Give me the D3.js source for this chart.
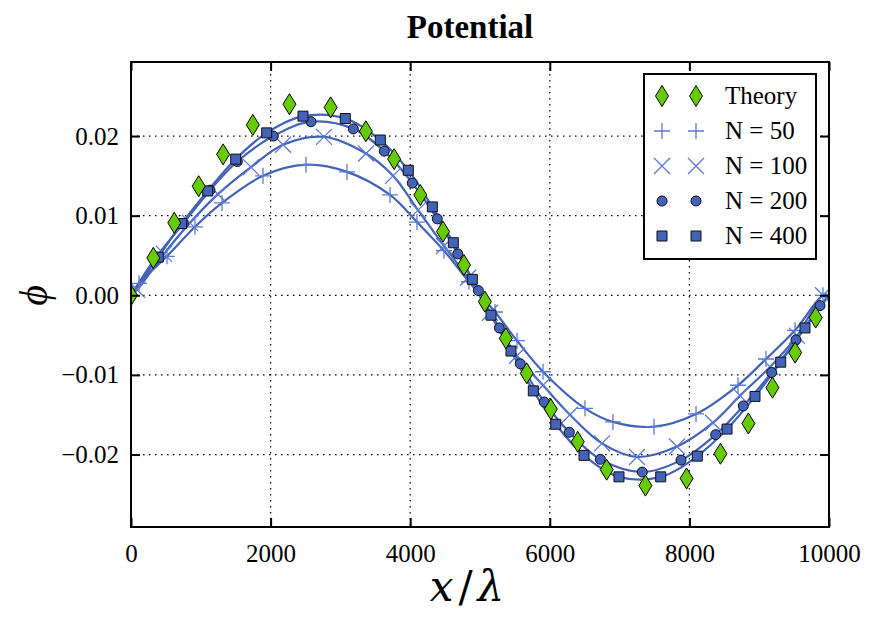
<!DOCTYPE html>
<html>
<head>
<meta charset="utf-8">
<script src="https://cdn.jsdelivr.net/npm/d3@7"></script>
<style>
    body { margin: 0; background: #fff; }
    text { font-family: "Liberation Serif", "Times New Roman", serif; }
</style>
</head>
<body>
<script>
// values
const theoryX = [0, 320, 620, 970, 1320, 1745, 2270, 2860, 3365, 3770, 4145, 4470, 4770, 5070, 5370, 5670, 6015, 6400, 6815, 7370, 7960, 8445, 8845, 9190, 9515, 9810];
const theoryY = [0, 0.0047, 0.0091, 0.0137, 0.0177, 0.0214, 0.0240, 0.0236, 0.0206, 0.0171, 0.0126, 0.0080, 0.0038, -0.0008, -0.0054, -0.0098, -0.0143, -0.0184, -0.0219, -0.0239, -0.0230, -0.0199, -0.0161, -0.0116, -0.0072, -0.0028];

const n50X = [115, 516, 917, 1304, 1891, 2507, 3095, 3711, 4097, 4484, 4842, 5215, 5530, 5903, 6504, 6905, 7493, 8095, 8696, 9097, 9513, 9914];
const n50Y = [0.0015, 0.0049, 0.0086, 0.0116, 0.0150, 0.0164, 0.0155, 0.0126, 0.0092, 0.0056, 0.0017, -0.0021, -0.0057, -0.0096, -0.0142, -0.0159, -0.0165, -0.0149, -0.0113, -0.0080, -0.0044, 0.0000];

const n100X = [86, 473, 845, 1246, 1719, 2178, 2765, 3367, 3754, 4112, 4484, 4828, 5143, 5530, 5903, 6289, 6748, 7249, 7822, 8338, 8725, 9155, 9542, 9914];
const n100Y = [0.0007, 0.0052, 0.0091, 0.0127, 0.0161, 0.0189, 0.0199, 0.0178, 0.0150, 0.0107, 0.0062, 0.0022, -0.0022, -0.0076, -0.0113, -0.0150, -0.0186, -0.0203, -0.0190, -0.0160, -0.0126, -0.0090, -0.0051, 0.0000];

const n200X = [344, 749, 1132, 1523, 2039, 2579, 3185, 3629, 4030, 4388, 4681, 4976, 5277, 5577, 5921, 6279, 6724, 7325, 7880, 8377, 8772, 9179, 9527, 9871];
const n200Y = [0.0046, 0.0090, 0.0132, 0.0168, 0.0200, 0.0218, 0.0209, 0.0181, 0.0141, 0.0096, 0.0052, 0.0006, -0.0041, -0.0086, -0.0134, -0.0172, -0.0206, -0.0222, -0.0207, -0.0175, -0.0139, -0.0097, -0.0056, -0.0013];

const n400X = [391, 726, 1099, 1500, 1944, 2464, 3070, 3572, 3973, 4317, 4618, 4890, 5158, 5444, 5764, 6085, 6490, 6991, 7589, 8113, 8539, 8940, 9308, 9656];
const n400Y = [0.0048, 0.0090, 0.0131, 0.0171, 0.0204, 0.0225, 0.0222, 0.0195, 0.0157, 0.0111, 0.0066, 0.0020, -0.0025, -0.0070, -0.0120, -0.0162, -0.0201, -0.0228, -0.0228, -0.0202, -0.0168, -0.0127, -0.0084, -0.0041];

const xTicks = [0, 2000, 4000, 6000, 8000, 10000];
const yTicks = [-0.02, -0.01, 0.00, 0.01, 0.02];

const blue = '#4363b9';
const lightBlue = '#5a7bd2';
const green = '#66cc00';

const width = 879, height = 626;
const margin = { 'top': 62, 'right': 50, 'bottom': 99, 'left': 131 };
const plotW = width - margin.left - margin.right;
const plotH = height - margin.top - margin.bottom;

const zip = (xs, ys) => xs.map((x, i) => ({ 'x': x, 'y': ys[i] }));

// marker shapes as path strings centred at 0,0
const shapes = {
    'diamond': 'M0,-10.5L6.5,0L0,10.5L-6.5,0Z',
    'plus': 'M-8,0H8M0,-8V8',
    'cross': 'M-8,-8L8,8M-8,8L8,-8',
    'circle': d3.symbol(d3.symbolCircle, Math.PI * 25)(),
    'square': 'M-5,-5H5V5H-5Z'
};

const series = [
    { 'name': 'Theory', 'data': zip(theoryX, theoryY), 'shape': 'diamond', 'fill': green, 'stroke': '#000', 'sw': 1, 'line': false },
    { 'name': 'N = 50', 'data': zip(n50X, n50Y), 'shape': 'plus', 'fill': 'none', 'stroke': lightBlue, 'sw': 1.3, 'line': true },
    { 'name': 'N = 100', 'data': zip(n100X, n100Y), 'shape': 'cross', 'fill': 'none', 'stroke': lightBlue, 'sw': 1.3, 'line': true },
    { 'name': 'N = 200', 'data': zip(n200X, n200Y), 'shape': 'circle', 'fill': blue, 'stroke': '#111', 'sw': 1, 'line': true },
    { 'name': 'N = 400', 'data': zip(n400X, n400Y), 'shape': 'square', 'fill': blue, 'stroke': '#111', 'sw': 1, 'line': true }
];

const svg = d3.select('body').append('svg')
    .attr('width', width)
    .attr('height', height);

svg.append('defs').append('clipPath')
    .attr('id', 'plotclip')
    .append('rect')
    .attr('width', plotW)
    .attr('height', plotH);

const g = svg.append('g')
    .attr('transform', 'translate(' + margin.left + ',' + margin.top + ')');

const xScale = d3.scaleLinear().domain([0, 10000]).range([0, plotW]);
const yScale = d3.scaleLinear().domain([-0.0291, 0.0293]).range([plotH, 0]);

// dotted grid
g.append('g').selectAll('line')
    .data(xTicks.slice(1, -1))
    .enter().append('line')
    .attr('x1', d => xScale(d)).attr('x2', d => xScale(d))
    .attr('y1', 0).attr('y2', plotH)
    .attr('stroke', '#000').attr('stroke-width', 1.2)
    .attr('stroke-dasharray', '1.5,4.5');

g.append('g').selectAll('line')
    .data(yTicks)
    .enter().append('line')
    .attr('y1', d => yScale(d)).attr('y2', d => yScale(d))
    .attr('x1', 0).attr('x2', plotW)
    .attr('stroke', '#000').attr('stroke-width', 1.2)
    .attr('stroke-dasharray', '1.5,4.5');

const plot = g.append('g').attr('clip-path', 'url(#plotclip)');

let line = d3.line()
    .x(d => xScale(d.x))
    .y(d => yScale(d.y))
    .curve(d3.curveCatmullRom.alpha(0.5));

series.filter(s => s.line).forEach(s => {
    plot.append('path')
        .datum([{ 'x': 0, 'y': 0 }].concat(s.data, [{ 'x': 10000, 'y': 0 }]))
        .attr('fill', 'none')
        .attr('stroke', blue)
        .attr('stroke-width', 2.2)
        .attr('d', line);
});

const drawOrder = [1, 2, 3, 4, 0];
drawOrder.forEach(i => {
    let s = series[i];
    plot.append('g').selectAll('path')
        .data(s.data)
        .enter().append('path')
        .attr('d', shapes[s.shape])
        .attr('transform', d => 'translate(' + xScale(d.x) + ',' + yScale(d.y) + ')')
        .attr('fill', s.fill)
        .attr('stroke', s.stroke)
        .attr('stroke-width', s.sw);
});

// axes with inward ticks on all four sides
const fmtY = d => d3.format('.2f')(d).replace('-', '\u2212');

const xAxis = g.append('g')
    .attr('transform', 'translate(0,' + plotH + ')')
    .call(d3.axisBottom(xScale).tickValues(xTicks).tickSize(-9).tickPadding(12).tickFormat(d3.format('d')));
g.append('g')
    .call(d3.axisTop(xScale).tickValues(xTicks).tickSize(-9).tickFormat(''));
g.append('g')
    .call(d3.axisLeft(yScale).tickValues(yTicks).tickSize(-9).tickPadding(12).tickFormat(fmtY));
g.append('g')
    .attr('transform', 'translate(' + plotW + ',0)')
    .call(d3.axisRight(yScale).tickValues(yTicks).tickSize(-9).tickFormat(''));

g.selectAll('.domain').remove();
g.selectAll('.tick line').attr('stroke', '#000').attr('stroke-width', 2);
g.selectAll('.tick text')
    .attr('fill', '#000')
    .style('font-family', '"Liberation Serif", serif')
    .style('font-size', '25px');
xAxis.selectAll('.tick text').attr('dy', '0.9em');

g.append('rect')
    .attr('width', plotW)
    .attr('height', plotH)
    .attr('fill', 'none')
    .attr('stroke', '#000')
    .attr('stroke-width', 2);

// title and labels
svg.append('text')
    .attr('x', 470)
    .attr('y', 38)
    .attr('text-anchor', 'middle')
    .style('font-size', '33px')
    .style('font-weight', 'bold')
    .text('Potential');

const xlab = svg.append('text')
    .attr('x', 467)
    .attr('y', 601)
    .attr('text-anchor', 'middle')
    .style('font-family', '"DejaVu Serif", serif')
    .style('font-size', '42px');
xlab.append('tspan').style('font-style', 'italic').text('x');
xlab.append('tspan').attr('dx', 5).style('font-weight', 300).text('/');
xlab.append('tspan').attr('dx', 5).style('font-style', 'italic').text('\u03bb');

svg.append('text')
    .attr('transform', 'translate(47,' + (margin.top + yScale(0)) + ') rotate(-90)')
    .attr('text-anchor', 'middle')
    .style('font-size', '40px')
    .style('font-style', 'italic')
    .text('\u03d5');

// legend
const legend = svg.append('g').attr('transform', 'translate(644,74)');
legend.append('rect')
    .attr('width', 172)
    .attr('height', 185)
    .attr('fill', '#fff')
    .attr('stroke', '#000')
    .attr('stroke-width', 2);

series.forEach((s, i) => {
    let row = legend.append('g').attr('transform', 'translate(0,' + (22 + i * 35) + ')');
    [18, 52].forEach(mx => {
        row.append('path')
            .attr('d', shapes[s.shape])
            .attr('transform', 'translate(' + mx + ',0)')
            .attr('fill', s.fill)
            .attr('stroke', s.stroke)
            .attr('stroke-width', s.sw);
    });
    row.append('text')
        .attr('x', 81)
        .attr('dy', '0.33em')
        .style('font-size', '25px')
        .text(s.name);
});
</script>
</body>
</html>
